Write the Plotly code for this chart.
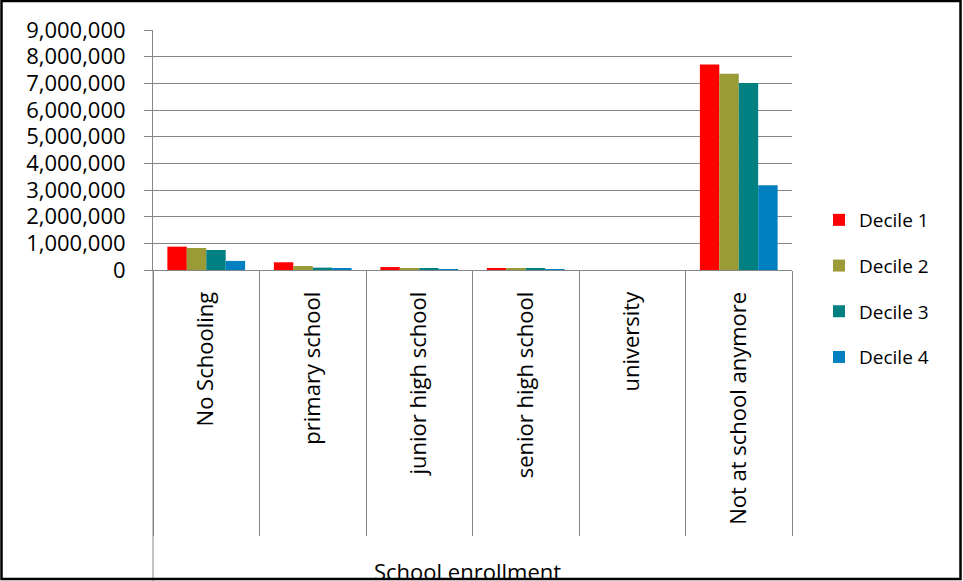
import plotly.graph_objects as go

categories = ["No Schooling", "primary school", "junior high school",
              "senior high school", "university", "Not at school anymore"]
series_names = ["Decile 1", "Decile 2", "Decile 3", "Decile 4"]
decile1 = [875000, 290000, 110000, 75000, 0, 7710000]
decile2 = [825000, 150000, 60000, 40000, 0, 7360000]
decile3 = [750000, 90000, 60000, 40000, 0, 7010000]
decile4 = [340000, 40000, 25000, 15000, 0, 3180000]
series_values = [decile1, decile2, decile3, decile4]
colors = ["#FF0000", "#9A9A36", "#008080", "#0080C0"]
y_ticks = list(range(0, 9000001, 1000000))

FONT = "Open Sans"
GRID = "#868686"

W, H = 963, 581
L, R, T, B = 153, 171, 30, 311
PW, PH = W - L - R, H - T - B


def px_x(p):
    return (p - L) / PW


def px_y(p):
    return 1 - (p - T) / PH


fig = go.Figure()
for name, vals, col in zip(series_names, series_values, colors):
    fig.add_trace(go.Bar(x=categories, y=vals, name=name, marker_color=col,
                         marker_line_width=0, legendgroup=name))

fig.update_layout(
    width=W, height=H,
    margin=dict(l=L, r=R, t=T, b=B, pad=0),
    paper_bgcolor="white", plot_bgcolor="white",
    barmode="group", bargap=0.27, bargroupgap=0,
    font=dict(family=FONT, color="black"),
    showlegend=True,
    legend=dict(x=px_x(819), y=px_y(201), xanchor="left", yanchor="top",
                font=dict(size=19, family=FONT, color="black"),
                tracegroupgap=18, bgcolor="rgba(0,0,0,0)"),
)

fig.update_yaxes(range=[0, 9000000], tickvals=y_ticks, tickformat=",",
                 showgrid=True, gridcolor=GRID, gridwidth=1,
                 showline=True, linecolor=GRID, linewidth=1,
                 ticks="outside", ticklen=8, tickcolor=GRID,
                 ticklabelstandoff=14,
                 tickfont=dict(size=22, family=FONT, color="black"),
                 zeroline=False)

fig.update_xaxes(type="category", showline=True, linecolor=GRID, linewidth=1,
                 ticks="outside", tickson="boundaries", ticklen=265,
                 tickcolor=GRID, tickwidth=1,
                 tickangle=-90, ticklabelstandoff=12,
                 tickfont=dict(size=22, family=FONT, color="black"),
                 showgrid=False)

# left category divider extending to the bottom
fig.add_shape(type="line", xref="paper", yref="paper",
              x0=0, x1=0, y0=0, y1=px_y(581), line=dict(color=GRID, width=1))

# outer chart border
fig.add_shape(type="rect", xref="paper", yref="paper",
              x0=px_x(1.5), x1=px_x(960.5), y0=px_y(1), y1=px_y(579),
              line=dict(color="black", width=2.5), layer="above")

fig.add_annotation(text="School enrollment", xref="paper", yref="paper",
                   x=px_x(467), y=px_y(571), xanchor="center", yanchor="middle",
                   showarrow=False, font=dict(size=22, family=FONT, color="black"))

fig.write_html("out.html")
